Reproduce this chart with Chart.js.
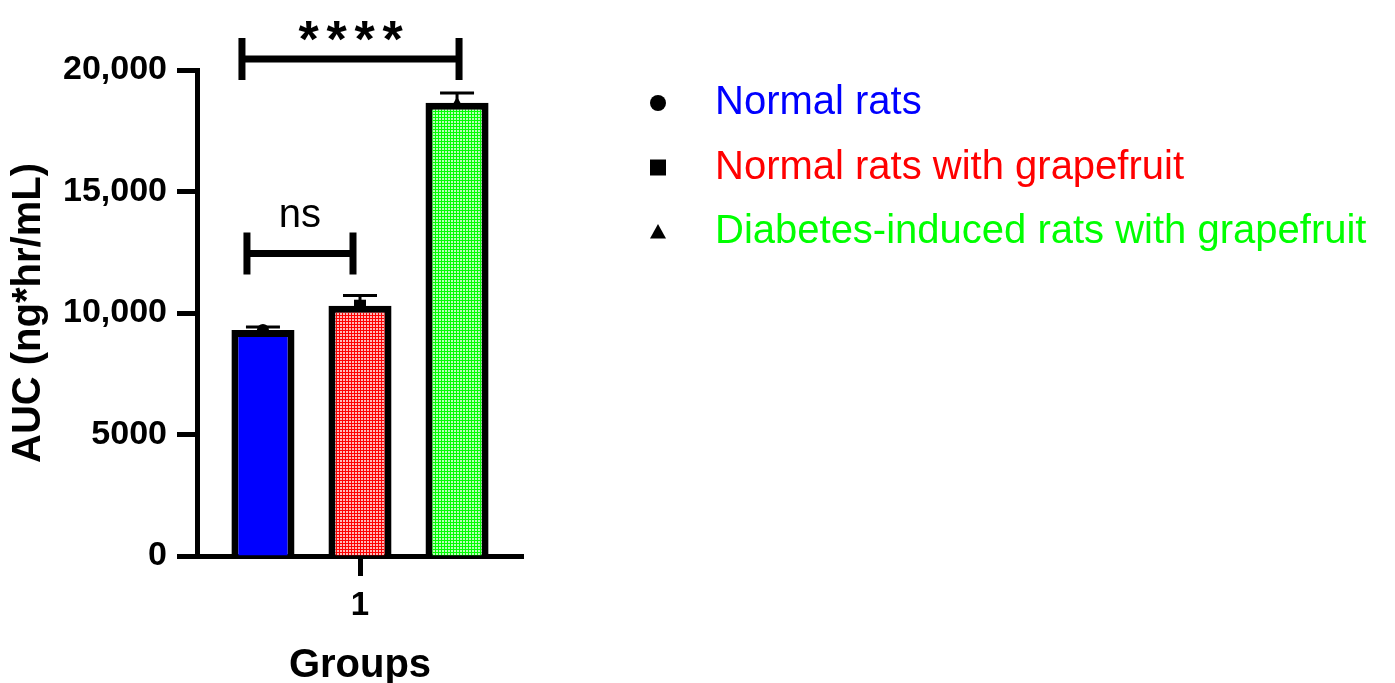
<!DOCTYPE html>
<html>
<head>
<meta charset="utf-8">
<title>AUC by group</title>
<script src="https://cdn.jsdelivr.net/npm/chart.js"></script>
<style>
  body { margin: 0; background: #fff; }
  #wrap { width: 1395px; height: 683px; }
</style>
</head>
<body>
<div id="wrap"><canvas id="aucChart" width="1395" height="683"></canvas></div>
<script>
"use strict"

// values
const groups = ['1'];
const seriesNames = ['Normal rats', 'Normal rats with grapefruit', 'Diabetes-induced rats with grapefruit'];
const seriesColors = ['#0000ff', '#ff0000', '#00ff00'];
const means = [9300, 10300, 18650];
const sems = [120, 420, 400];
const markers = ['circle', 'square', 'triangle'];
const yTicks = [0, 5000, 10000, 15000, 20000];

// significance brackets: which bars, label, height (AUC units)
const bracketPairs = [[0, 2], [0, 1]];
const bracketLabels = ['****', 'ns'];
const bracketLevels = [20450, 12450];

const FONT = "'Liberation Sans', Arial, sans-serif";
const chartEl = document.getElementById('aucChart');

//fine grid fill like the graphpad pattern
function gridPattern(line, gap) {
  const c = document.createElement('canvas');
  c.width = 3; c.height = 3;
  const g = c.getContext('2d');
  g.fillStyle = gap;
  g.fillRect(0, 0, 3, 3);
  g.fillStyle = line;
  g.fillRect(0, 0, 3, 1);
  g.fillRect(0, 0, 1, 3);
  return chartEl.getContext('2d').createPattern(c, 'repeat');
}

const fills = [
  seriesColors[0],
  gridPattern(seriesColors[1], '#ffb8b8'),
  gridPattern(seriesColors[2], '#b8ffb8')
];

function drawMarker(ctx, style, x, y, r) {
  ctx.beginPath();
  if (style == 'circle') {
    ctx.arc(x, y, r, 0, Math.PI * 2);
  } else if (style == 'square') {
    ctx.rect(x - r, y - r, r * 2, r * 2);
  } else {
    ctx.moveTo(x, y - r);
    ctx.lineTo(x + r, y + r * 0.8);
    ctx.lineTo(x - r, y + r * 0.8);
    ctx.closePath();
  }
  ctx.fill();
}

const extras = {
  id: 'extras',
  afterDatasetsDraw(chart) {
    const ctx = chart.ctx;
    const y = chart.scales.y;
    const barX = i => chart.getDatasetMeta(i).data[0].x;
    ctx.save();
    ctx.fillStyle = '#000';
    ctx.strokeStyle = '#000';

    //error bars (upper half) and mean marker
    means.forEach((m, i) => {
      const x = barX(i);
      const yMean = y.getPixelForValue(m);
      const yTop = y.getPixelForValue(m + sems[i]);
      ctx.lineWidth = 3;
      ctx.beginPath();
      ctx.moveTo(x, yMean);
      ctx.lineTo(x, yTop);
      ctx.moveTo(x - 17, yTop);
      ctx.lineTo(x + 17, yTop);
      ctx.stroke();
      drawMarker(ctx, markers[i], x, yMean, 6);
    });

    //brackets
    const nudge = [[-21, 2], [-16, -7]];
    bracketPairs.forEach((pair, k) => {
      const x1 = barX(pair[0]) + nudge[k][0];
      const x2 = barX(pair[1]) + nudge[k][1];
      const xm = (x1 + x2) / 2;
      const yb = y.getPixelForValue(bracketLevels[k]);
      ctx.lineWidth = 7;
      ctx.beginPath();
      ctx.moveTo(x1, yb); ctx.lineTo(x2, yb);
      ctx.moveTo(x1, yb - 21); ctx.lineTo(x1, yb + 21);
      ctx.moveTo(x2, yb - 21); ctx.lineTo(x2, yb + 21);
      ctx.stroke();
      ctx.textAlign = 'center';
      ctx.textBaseline = 'alphabetic';
      const txt = bracketLabels[k];
      if (txt.startsWith('*')) {
        // stars are spaced out in the original
        ctx.font = 'bold 52px ' + FONT;
        const step = 28;
        for (let s = 0; s < txt.length; s++) {
          ctx.fillText('*', xm + (s - (txt.length - 1) / 2) * step, yb - 2);
        }
      } else {
        ctx.font = '40px ' + FONT;
        ctx.fillText(txt, xm, yb - 26);
      }
    });

    //legend
    ctx.font = '40px ' + FONT;
    ctx.textAlign = 'left';
    ctx.textBaseline = 'middle';
    seriesNames.forEach((name, i) => {
      const rowY = 103 + i * 64.5;
      ctx.fillStyle = '#000';
      drawMarker(ctx, markers[i], 658, rowY, 8);
      ctx.fillStyle = seriesColors[i];
      ctx.fillText(name, 715, rowY);
    });
    ctx.restore();
  }
};

new Chart(chartEl, {
  type: 'bar',
  data: {
    labels: groups,
    datasets: seriesNames.map((name, i) => ({
      label: name,
      data: [means[i]],
      backgroundColor: fills[i],
      borderColor: '#000',
      borderWidth: 7,
      borderSkipped: 'start',
      categoryPercentage: 0.893,
      barPercentage: 0.65
    }))
  },
  options: {
    responsive: false,
    animation: false,
    layout: { padding: { top: 70, right: 872, bottom: 0, left: 0 } },
    plugins: {
      legend: { display: false },
      tooltip: { enabled: false }
    },
    scales: {
      x: {
        offset: true,
        afterFit: s => { s.height = 127; },
        border: { display: true, color: '#000', width: 5 },
        grid: { display: true, offset: false, drawOnChartArea: false, color: '#000', tickLength: 20, tickWidth: 5 },
        ticks: { color: '#000', padding: 10, font: { family: FONT, size: 33, weight: 'bold' } },
        title: { display: true, text: 'Groups', color: '#000', padding: { top: 0, bottom: -3 },
                 font: { family: FONT, size: 40, weight: 'bold', lineHeight: 1 } }
      },
      y: {
        min: 0,
        max: 20000,
        afterBuildTicks: s => { s.ticks = yTicks.map(v => ({ value: v })); },
        afterFit: s => { s.width = 197; },
        border: { display: true, color: '#000', width: 5 },
        grid: { display: true, drawOnChartArea: false, color: '#000', tickLength: 20, tickWidth: 5 },
        ticks: {
          color: '#000',
          padding: 10,
          font: { family: FONT, size: 34, weight: 'bold' },
          callback: v => v >= 10000 ? v.toLocaleString('en-US') : String(v)
        },
        title: { display: true, text: 'AUC (ng*hr/mL)', color: '#000', padding: 9,
                 font: { family: FONT, size: 40, weight: 'bold', lineHeight: 1 } }
      }
    }
  },
  plugins: [extras]
});
</script>
</body>
</html>
